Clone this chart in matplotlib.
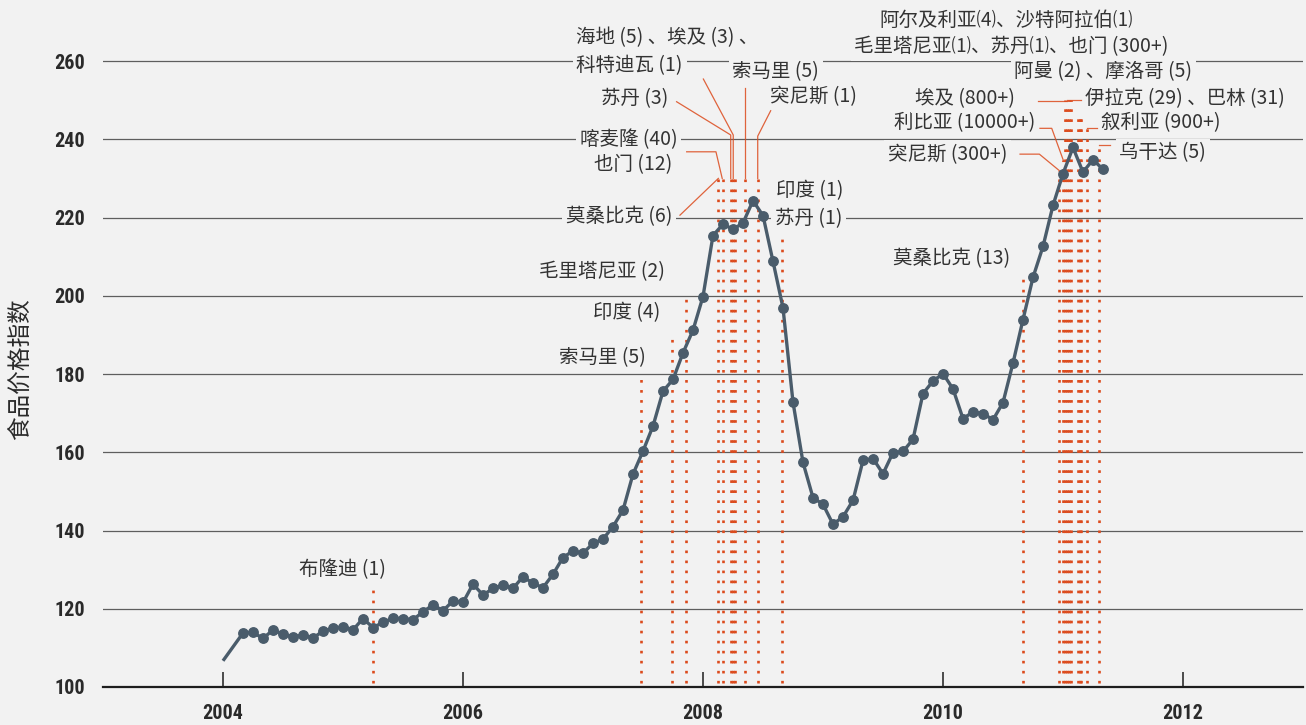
import matplotlib
matplotlib.use('Agg')
import matplotlib.pyplot as plt
import pandas as pd

plt.rcParams['font.family'] = ['Noto Sans CJK SC', 'DejaVu Sans']

# ---------------- data ----------------
start_month = '2004-01'
start_value = 106.7
months = pd.period_range('2004-03', '2011-05', freq='M')
food_index = [
    113.8, 114.0, 112.4, 114.6, 113.5, 112.8, 113.3, 112.5, 114.3, 115.0,
    115.4, 114.6, 117.5, 115.2, 116.5, 117.6, 117.5, 117.2, 119.2, 121.0,
    119.5, 122.0, 121.6, 126.3, 123.5, 125.2, 126.0, 125.2, 128.2, 126.5,
    125.4, 128.8, 133.1, 134.8, 134.2, 136.7, 137.8, 141.0, 145.2, 154.4,
    160.3, 166.7, 175.6, 178.6, 185.4, 191.2, 199.8, 215.4, 218.3, 217.0,
    218.6, 224.3, 220.5, 208.8, 196.9, 172.8, 157.4, 148.4, 146.7, 141.6,
    143.5, 147.7, 157.9, 158.4, 154.5, 159.9, 160.2, 163.3, 175.0, 178.2,
    180.1, 176.2, 168.6, 170.3, 169.9, 168.3, 172.7, 182.8, 193.9, 204.7,
    212.6, 223.1, 231.2, 237.9, 231.6, 234.8, 232.3,
]

year_ticks = [2004, 2006, 2008, 2010, 2012]
index_ticks = [100, 120, 140, 160, 180, 200, 220, 240, 260]

# riot events: date (decimal year) and the top of their dotted line
event_dates = [2005.253, 2007.483, 2007.744, 2007.856, 2008.128, 2008.163,
               2008.231, 2008.249, 2008.267, 2008.350, 2008.456, 2008.658,
               2010.669, 2010.969, 2011.003, 2011.019, 2011.035, 2011.052,
               2011.069, 2011.121, 2011.138, 2011.154, 2011.202, 2011.302]
event_tops = [125.0, 180.2, 190.2, 200.3, 230.0, 230.0,
              230.0, 230.0, 230.0, 230.0, 230.0, 215.3,
              206.0, 232.0, 234.6, 250.0, 249.7, 250.0,
              250.0, 245.4, 245.4, 245.4, 242.8, 238.5]

labels = ['布隆迪 (1)', '索马里 (5)', '印度 (4)', '毛里塔尼亚 (2)', '莫桑比克 (6)',
          '喀麦隆 (40)', '也门 (12)', '苏丹 (3)', '海地 (5) 、埃及 (3) 、',
          '科特迪瓦 (1)', '索马里 (5)', '突尼斯 (1)', '印度 (1)', '苏丹 (1)',
          '莫桑比克 (13)', '突尼斯 (300+)', '利比亚 (10000+)', '埃及 (800+)',
          '阿曼 (2) 、摩洛哥 (5)', '伊拉克 (29) 、巴林 (31)', '叙利亚 (900+)',
          '乌干达 (5)', '阿尔及利亚⑷、沙特阿拉伯⑴', '毛里塔尼亚⑴、苏丹⑴、也门 (300+)']

# ---------------- layout (label anchors / leader paths, data coords) -------
label_layout = [  # x, y, ha
    (2005.36, 130.0, 'right'), (2007.52, 184.3, 'right'), (2007.645, 195.6, 'right'),
    (2007.685, 206.1, 'right'), (2007.745, 220.2, 'right'), (2007.785, 239.8, 'right'),
    (2007.745, 233.4, 'right'), (2007.71, 250.5, 'right'), (2006.945, 265.9, 'left'),
    (2006.945, 258.7, 'left'), (2008.245, 257.2, 'left'), (2008.555, 250.8, 'left'),
    (2008.605, 226.8, 'left'), (2008.598, 219.6, 'left'), (2010.56, 209.4, 'right'),
    (2010.535, 236.2, 'right'), (2010.77, 244.2, 'right'), (2010.60, 250.3, 'right'),
    (2010.595, 257.2, 'left'), (2011.18, 250.3, 'left'), (2011.32, 244.2, 'left'),
    (2011.47, 236.5, 'left'), (2009.47, 270.5, 'left'), (2009.262, 263.6, 'left'),
]
leaders = [
    [(2007.808, 220.6), (2008.128, 230.0)],
    [(2007.864, 236.8), (2008.108, 236.8), (2008.160, 230.0)],
    [(2007.780, 249.6), (2008.231, 241.1), (2008.231, 230.0)],
    [(2008.003, 255.4), (2008.252, 241.1), (2008.252, 230.0)],
    [(2008.350, 253.2), (2008.350, 230.0)],
    [(2008.564, 247.3), (2008.456, 240.8), (2008.456, 230.0)],
    [(2010.642, 236.2), (2010.803, 236.2), (2010.969, 232.0)],
    [(2010.808, 242.8), (2010.906, 242.8), (2011.003, 234.6)],
    [(2010.792, 249.7), (2011.035, 249.7)],
    [(2011.035, 250.0), (2011.154, 250.0)],
    [(2011.283, 242.8), (2011.202, 242.8)],
    [(2011.390, 238.5), (2011.302, 238.5)],
]

# ---------------- style ----------------
bg = '#f2f2f2'
line_c = '#4a5c6b'
red = '#dc4a1c'
text_c = '#333333'

fig = plt.figure(figsize=(13.06, 7.25), dpi=100, facecolor=bg)
ax = fig.add_axes([103 / 1306, (725 - 687) / 725, 1200 / 1306, 687 / 725])
ax.set_facecolor(bg)
ax.set_xlim(2003, 2013)
ax.set_ylim(100, 275.6)

for v in index_ticks[1:]:
    ax.axhline(v, color='#5e5e5e', lw=0.9, zorder=0.5)

for s in ['top', 'right', 'left']:
    ax.spines[s].set_visible(False)
ax.spines['bottom'].set_color('#1e1e1e')
ax.spines['bottom'].set_linewidth(1.6)
ax.spines['bottom'].set_zorder(6)

num_font = dict(family=['Roboto Condensed', 'Liberation Sans Narrow',
                        'DejaVu Sans Condensed', 'Roboto', 'DejaVu Sans'],
                weight='bold', stretch='condensed', size=14.5)
ax.set_xticks(year_ticks)
ax.set_xticklabels([str(y) for y in year_ticks], fontdict=num_font, color='#2a2a2a')
ax.set_yticks(index_ticks)
ax.set_yticklabels([str(v) for v in index_ticks], fontdict=num_font, color='#2a2a2a')
ax.tick_params(axis='x', direction='in', length=10.5, width=1.1, color='#1e1e1e', pad=12)
ax.tick_params(axis='y', length=0, pad=13)

# riot event dotted lines (drawn upward so the dots line up across lines)
for d, t in zip(event_dates, event_tops):
    ax.plot([d, d], [101.0, t], color=red, lw=1.9, dashes=(1.0, 2.8),
            dash_capstyle='butt', zorder=3)

for path in leaders:
    xs, ys = zip(*path)
    ax.plot(xs, ys, color=red, lw=0.9, alpha=0.85, zorder=3)

# price line
x_months = [p.year + (p.month - 1) / 12 for p in months]
sp = pd.Period(start_month, freq='M')
ax.plot([sp.year + (sp.month - 1) / 12, x_months[0]], [start_value, food_index[0]],
        color=line_c, lw=2.4, zorder=5, solid_capstyle='butt')
ax.plot(x_months, food_index, color=line_c, lw=2.4, marker='o', ms=6.8,
        zorder=5)

for txt, (x, y, ha) in zip(labels, label_layout):
    ax.text(x, y, txt, ha=ha, va='center', fontsize=14, color=text_c, zorder=2,
            bbox=dict(boxstyle='square,pad=0.2', fc=bg, ec='none'))

fig.text(20 / 1306, 1 - 369 / 725, '食品价格指数', rotation=90, ha='center',
         va='center', fontsize=17, color='#2a2a2a')

fig.savefig('out.png', dpi=100, facecolor=bg)
